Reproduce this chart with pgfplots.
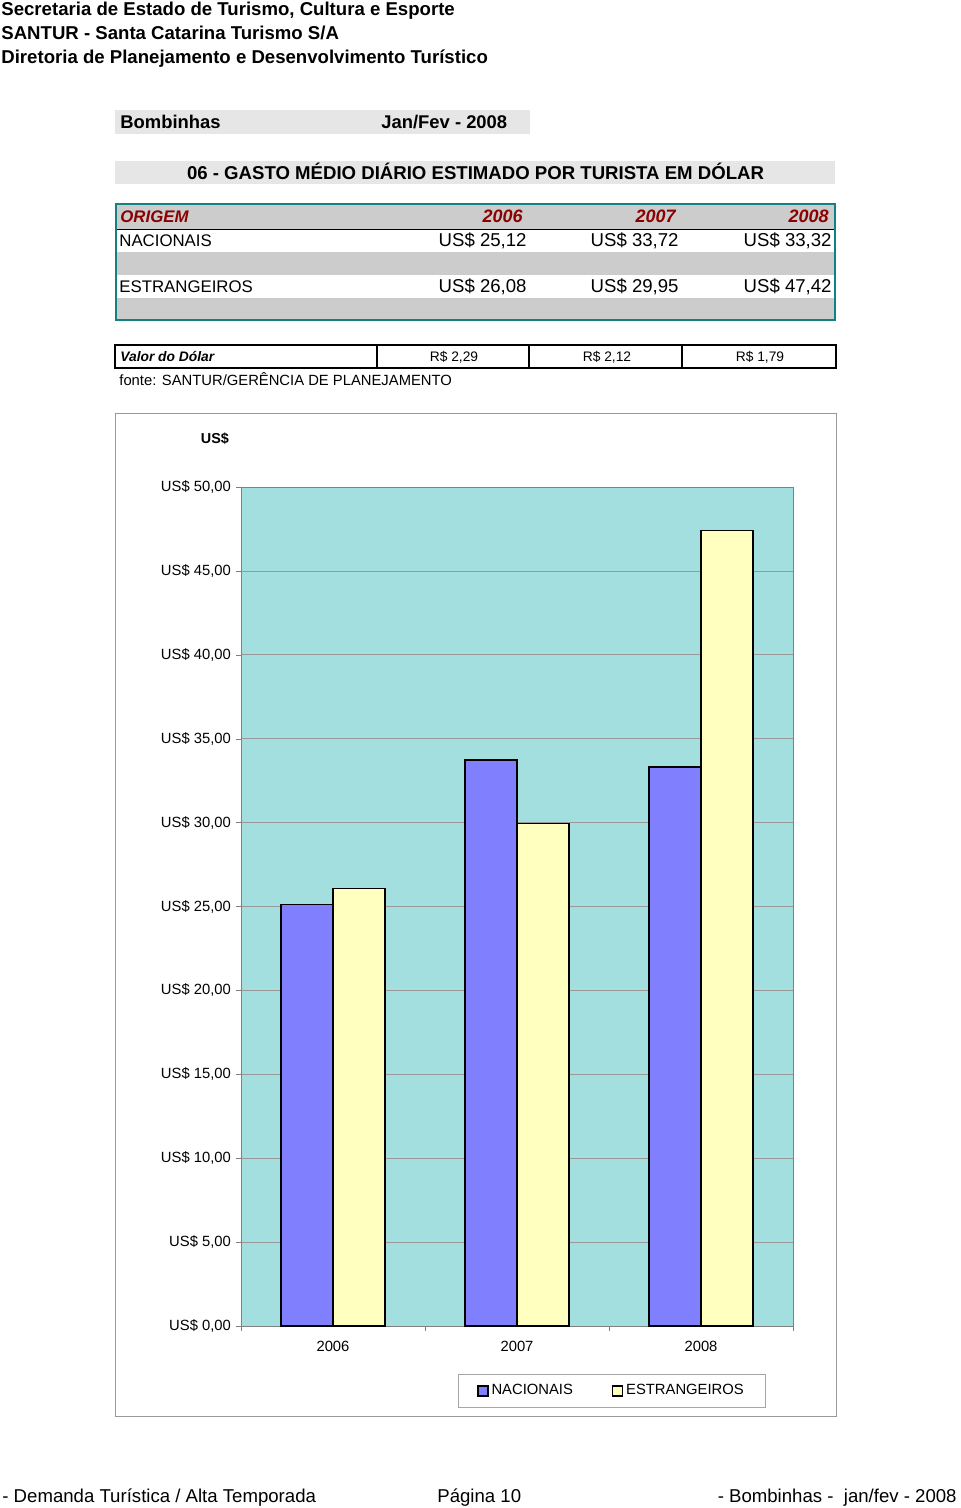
\documentclass[border=0pt]{standalone}
\usepackage{pgfplots}
\pgfplotsset{compat=1.18}
\usepackage{fontspec}
\setmainfont{Liberation Sans}
\definecolor{plotbg}{HTML}{A4DFE0}
\definecolor{nac}{HTML}{8080FF}
\definecolor{est}{HTML}{FFFFC0}
\definecolor{tealb}{HTML}{168080}
\definecolor{darkred}{HTML}{8B0000}
\definecolor{lgray}{HTML}{E6E6E6}
\definecolor{mgray}{HTML}{CCCCCC}
\newcommand{\fs}[1]{\fontsize{#1}{#1}\selectfont}
\begin{document}
\begin{tikzpicture}
\begin{scope}[x=0.5pt,y=-0.5pt]
\path (0,0) rectangle (960,1508);
% header
\begin{scope}[every node/.style={inner sep=0pt, anchor=base west, font=\fs{9.3}\bfseries}]
\node at (1,16) {Secretaria de Estado de Turismo, Cultura e Esporte};
\node at (1,40) {SANTUR - Santa Catarina Turismo S/A};
\node at (1,64) {Diretoria de Planejamento e Desenvolvimento Turístico};
\end{scope}
% Bombinhas box
\fill[lgray] (115,110) rectangle (530,134);
\node[inner sep=0pt, anchor=base west, font=\fs{9.2}\bfseries] at (120,129) {Bombinhas};
\node[inner sep=0pt, anchor=base west, font=\fs{9.2}\bfseries] at (381,129) {Jan/Fev - 2008};
% title box
\fill[lgray] (115,161) rectangle (835,184);
\node[inner sep=0pt, anchor=base, font=\fs{9.3}\bfseries] at (475.5,180) {06 - GASTO MÉDIO DIÁRIO ESTIMADO POR TURISTA EM DÓLAR};
% table
\fill[mgray] (116,205) rectangle (835,229);
\fill[mgray] (116,252) rectangle (835,275);
\fill[mgray] (116,298) rectangle (835,319);
\draw[black, line width=0.9pt] (116,229.5) -- (835,229.5);
\draw[tealb, line width=1.4pt] (116,320) -- (116,204) -- (835,204) -- (835,320) -- cycle;
\begin{scope}[every node/.style={inner sep=0pt}]
\node[anchor=base west, font=\fs{8.4}\bfseries\itshape, text=darkred] at (120,223) {ORIGEM};
\node[anchor=base east, font=\fs{9}\bfseries\itshape, text=darkred] at (523,223) {2006};
\node[anchor=base east, font=\fs{9}\bfseries\itshape, text=darkred] at (676,223) {2007};
\node[anchor=base east, font=\fs{9}\bfseries\itshape, text=darkred] at (829,223) {2008};
\node[anchor=base west, font=\fs{8.4}] at (119,247) {NACIONAIS};
\node[anchor=base east, font=\fs{9.3}] at (527,247) {US\$ 25,12};
\node[anchor=base east, font=\fs{9.3}] at (679,247) {US\$ 33,72};
\node[anchor=base east, font=\fs{9.3}] at (832,247) {US\$ 33,32};
\node[anchor=base west, font=\fs{8.4}] at (119,293) {ESTRANGEIROS};
\node[anchor=base east, font=\fs{9.3}] at (527,293) {US\$ 26,08};
\node[anchor=base east, font=\fs{9.3}] at (679,293) {US\$ 29,95};
\node[anchor=base east, font=\fs{9.3}] at (832,293) {US\$ 47,42};
\end{scope}
% valor do dolar
\draw[black, line width=0.6pt] (115,345) rectangle (836,368);
\draw[black, line width=0.6pt] (377,345) -- (377,368) (529,345) -- (529,368) (682,345) -- (682,368);
\begin{scope}[every node/.style={inner sep=0pt, font=\fs{6.9}}]
\node[anchor=base west, font=\fs{6.9}\bfseries\itshape] at (120,362) {Valor do Dólar};
\node[anchor=base] at (454,362) {R\$ 2,29};
\node[anchor=base] at (607,362) {R\$ 2,12};
\node[anchor=base] at (760,362) {R\$ 1,79};
\end{scope}
\node[inner sep=0pt, anchor=base west, font=\fs{7.4}] at (119,386) {fonte: SANTUR/GERÊNCIA DE PLANEJAMENTO};
% chart frame
\draw[gray!80, line width=0.5pt] (115,413) rectangle (836,1416);
\node[inner sep=0pt, anchor=base, font=\fs{7.2}\bfseries] at (215,443) {US\$};
% footer
\begin{scope}[every node/.style={inner sep=0pt, anchor=base west, font=\fs{9.3}}]
\node at (2,1502) {- Demanda Turística / Alta Temporada};
\node at (437,1502) {Página 10};
\node[anchor=base east] at (957,1502) {- Bombinhas -\ \ jan/fev - 2008};
\end{scope}
\end{scope}
\begin{axis}[
  at={(120.5pt,-663pt)}, anchor=south west,
  scale only axis, width=276pt, height=419.5pt,
  xmin=-0.5, xmax=2.5, ymin=0, ymax=50,
  enlargelimits=false,
  ybar=0pt, bar width=26pt,
  axis background/.style={fill=plotbg},
  axis line style={gray},
  ytick={0,5,...,50},
  yticklabels={US\$ 0{,}00,US\$ 5{,}00,US\$ 10{,}00,US\$ 15{,}00,US\$ 20{,}00,US\$ 25{,}00,US\$ 30{,}00,US\$ 35{,}00,US\$ 40{,}00,US\$ 45{,}00,US\$ 50{,}00},
  xtick={0,1,2}, xticklabels={2006,2007,2008},
  minor xtick={-0.5,0.5,1.5,2.5},
  xtick pos=bottom, ytick pos=left,
  major x tick style={draw=none},
  minor x tick style={draw=gray},
  ytick style={draw=gray},
  tick align=outside,
  major tick length=2.5pt, minor tick length=2.5pt,
  ymajorgrids, grid style={gray!80, line width=0.4pt},
  ticklabel style={font=\fs{7.4}},
  yticklabel style={xshift=1pt},
  xticklabel style={yshift=-1.5pt},
  legend columns=2,
  legend style={at={(0.393,-0.0572)}, anchor=north west, draw=gray!70, fill=white,
    font=\fs{7.4}, inner xsep=9.5pt, inner ysep=3pt,
    /tikz/every even column/.append style={column sep=18pt},
    nodes={inner xsep=1.5pt}},
  legend image code/.code={\draw[#1, draw=black, line width=0.6pt] (0pt,-2.5pt) rectangle (5pt,2.5pt);},
]
\addplot[fill=nac, draw=black, line width=0.7pt] coordinates {(0,25.12) (1,33.72) (2,33.32)};
\addplot[fill=est, draw=black, line width=0.7pt] coordinates {(0,26.08) (1,29.95) (2,47.42)};
\legend{NACIONAIS,ESTRANGEIROS}
\end{axis}
\end{tikzpicture}
\end{document}
